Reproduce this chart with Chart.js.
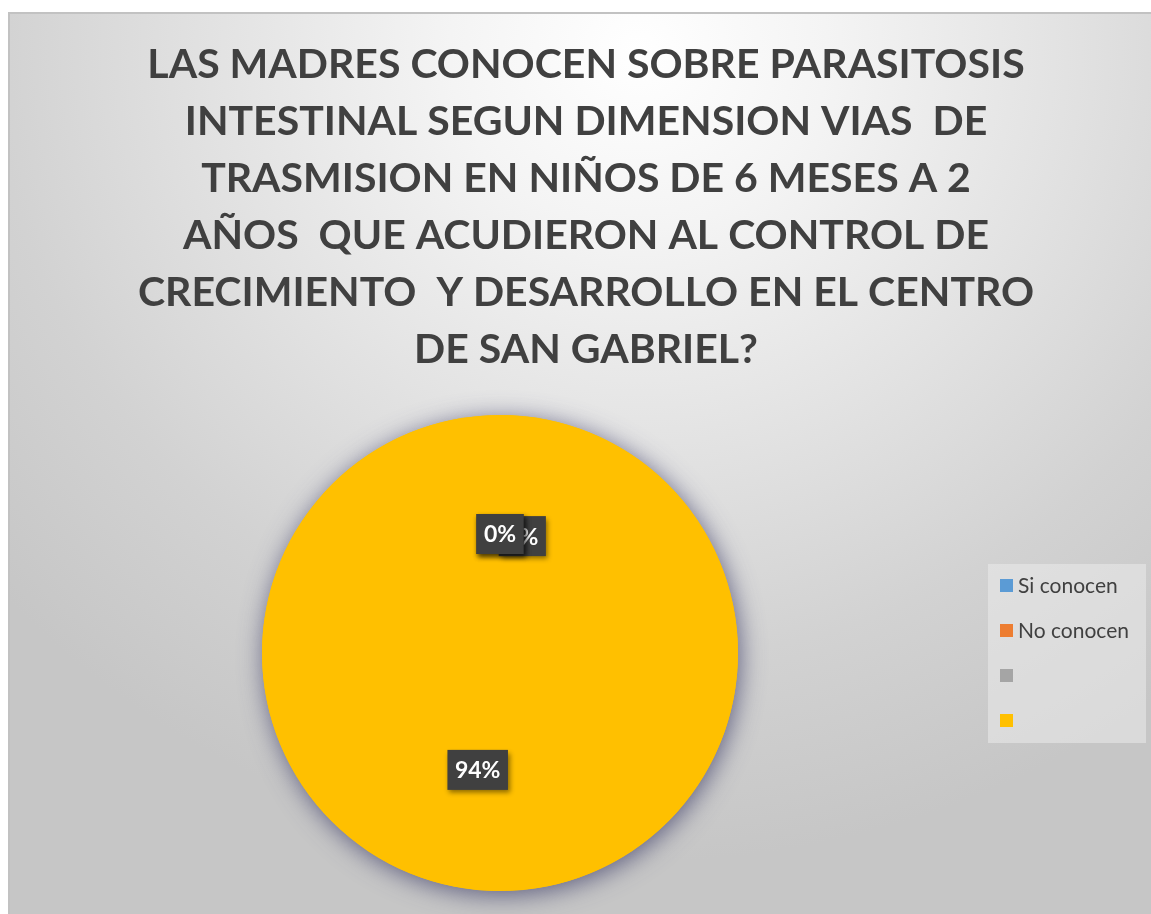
<!DOCTYPE html>
<html>
<head>
<meta charset="utf-8">
<script src="https://cdn.jsdelivr.net/npm/chart.js@4"></script>
<style>
html,body{margin:0;padding:0;background:#ffffff;width:1151px;height:914px;overflow:hidden;}
#frame{position:absolute;left:8px;top:12px;width:1143px;height:902px;border-top:2px solid #c2c2c2;border-left:2px solid #c2c2c2;
background:radial-gradient(ellipse 75% 90% at 55% 4%, #ffffff 0%, #f4f4f4 22%, #e2e2e2 50%, #d2d2d2 75%, #c6c6c6 100%);}
canvas{position:absolute;left:0;top:0;}
</style>
</head>
<body>
<div id="frame"><canvas id="c" width="1141" height="900"></canvas></div>
<script>
// ---- data ----
const categories = ["Si conocen", "No conocen", "", ""];
const values = [0, 0, 6, 94];
const legendColors = ["#5B9BD5", "#ED7D31", "#A5A5A5", "#FFC000"];
const sliceColors = ["#5B9BD5", "#ED7D31", "#FFC000", "#FFC000"];
const titleLines = [
  "LAS MADRES CONOCEN SOBRE PARASITOSIS",
  "INTESTINAL SEGUN DIMENSION VIAS  DE",
  "TRASMISION EN NIÑOS DE 6 MESES A 2",
  "AÑOS  QUE ACUDIERON AL CONTROL DE",
  "CRECIMIENTO  Y DESARROLLO EN EL CENTRO",
  "DE SAN GABRIEL?"
];

const FONT = "Lato, 'Open Sans', sans-serif";
// fit title font so first line spans ~877px
const mctx = document.createElement('canvas').getContext('2d');
mctx.font = "bold 40px " + FONT;
const w40 = mctx.measureText(titleLines[0]).width;
const titleSize = Math.round(40 * 877 / w40 * 10) / 10;

const titlePlugin = {
  id: 'bigTitle',
  afterDraw(chart) {
    const ctx = chart.ctx;
    ctx.save();
    ctx.font = "bold " + titleSize + "px " + FONT;
    ctx.fillStyle = '#404040';
    ctx.textAlign = 'center';
    ctx.textBaseline = 'alphabetic';
    titleLines.forEach((t, i) => ctx.fillText(t, 576, 64 + 57 * i));
    ctx.restore();
  }
};

const shadowPlugin = {
  id: 'pieShadow',
  beforeDatasetsDraw(chart) {
    const arc = chart.getDatasetMeta(0).data[3];
    const ctx = chart.ctx;
    ctx.save();
    ctx.shadowColor = 'rgba(70,70,110,0.8)';
    ctx.shadowBlur = 24;
    ctx.shadowOffsetX = 2;
    ctx.shadowOffsetY = 4;
    ctx.fillStyle = '#FFC000';
    ctx.beginPath();
    ctx.arc(arc.x, arc.y, arc.outerRadius, 0, Math.PI * 2);
    ctx.fill();
    ctx.restore();
  }
};

const labelPlugin = {
  id: 'pctLabels',
  afterDatasetsDraw(chart) {
    const ctx = chart.ctx;
    const meta = chart.getDatasetMeta(0);
    const data = chart.data.datasets[0].data;
    const total = data.reduce((a, b) => a + b, 0);
    ctx.save();
    ctx.font = "bold 23px " + FONT;
    ctx.textAlign = 'center';
    ctx.textBaseline = 'middle';
    for (let i = meta.data.length - 1; i >= 0; i--) {
      const el = meta.data[i];
      const p = el.getCenterPoint();
      const txt = Math.round(data[i] / total * 100) + "%";
      const tw = ctx.measureText(txt).width;
      const bw = tw + 15, bh = 40;
      ctx.save();
      ctx.shadowColor = 'rgba(0,0,0,0.45)';
      ctx.shadowBlur = 5;
      ctx.shadowOffsetX = 2;
      ctx.shadowOffsetY = 3;
      ctx.fillStyle = '#404040';
      ctx.fillRect(p.x - bw / 2, p.y - bh / 2, bw, bh);
      ctx.restore();
      ctx.fillStyle = '#ffffff';
      ctx.fillText(txt, p.x, p.y + 1);
    }
    ctx.restore();
  }
};

const legendPlugin = {
  id: 'sideLegend',
  afterDraw(chart) {
    const ctx = chart.ctx;
    const x0 = 978, y0 = 550, w = 158, h = 179;
    ctx.save();
    ctx.fillStyle = 'rgba(235,235,235,0.55)';
    ctx.fillRect(x0, y0, w, h);
    ctx.font = "21px " + FONT;
    ctx.textBaseline = 'middle';
    ctx.textAlign = 'left';
    chart.data.labels.forEach((lab, i) => {
      const cy = 572 + i * 45;
      ctx.fillStyle = legendColors[i];
      ctx.fillRect(990, cy - 7, 13, 13);
      ctx.fillStyle = '#404040';
      ctx.fillText(lab, 1008, cy);
    });
    ctx.restore();
  }
};

new Chart(document.getElementById('c'), {
  type: 'pie',
  data: {
    labels: categories,
    datasets: [{
      data: values,
      backgroundColor: sliceColors,
      borderWidth: 0,
      hoverOffset: 0
    }]
  },
  options: {
    responsive: false,
    animation: false,
    events: [],
    layout: { padding: { left: 252, right: 413, top: 401, bottom: 23 } },
    plugins: {
      legend: { display: false },
      tooltip: { enabled: false },
      title: { display: false }
    }
  },
  plugins: [shadowPlugin, labelPlugin, legendPlugin, titlePlugin]
});
</script>
</body>
</html>
